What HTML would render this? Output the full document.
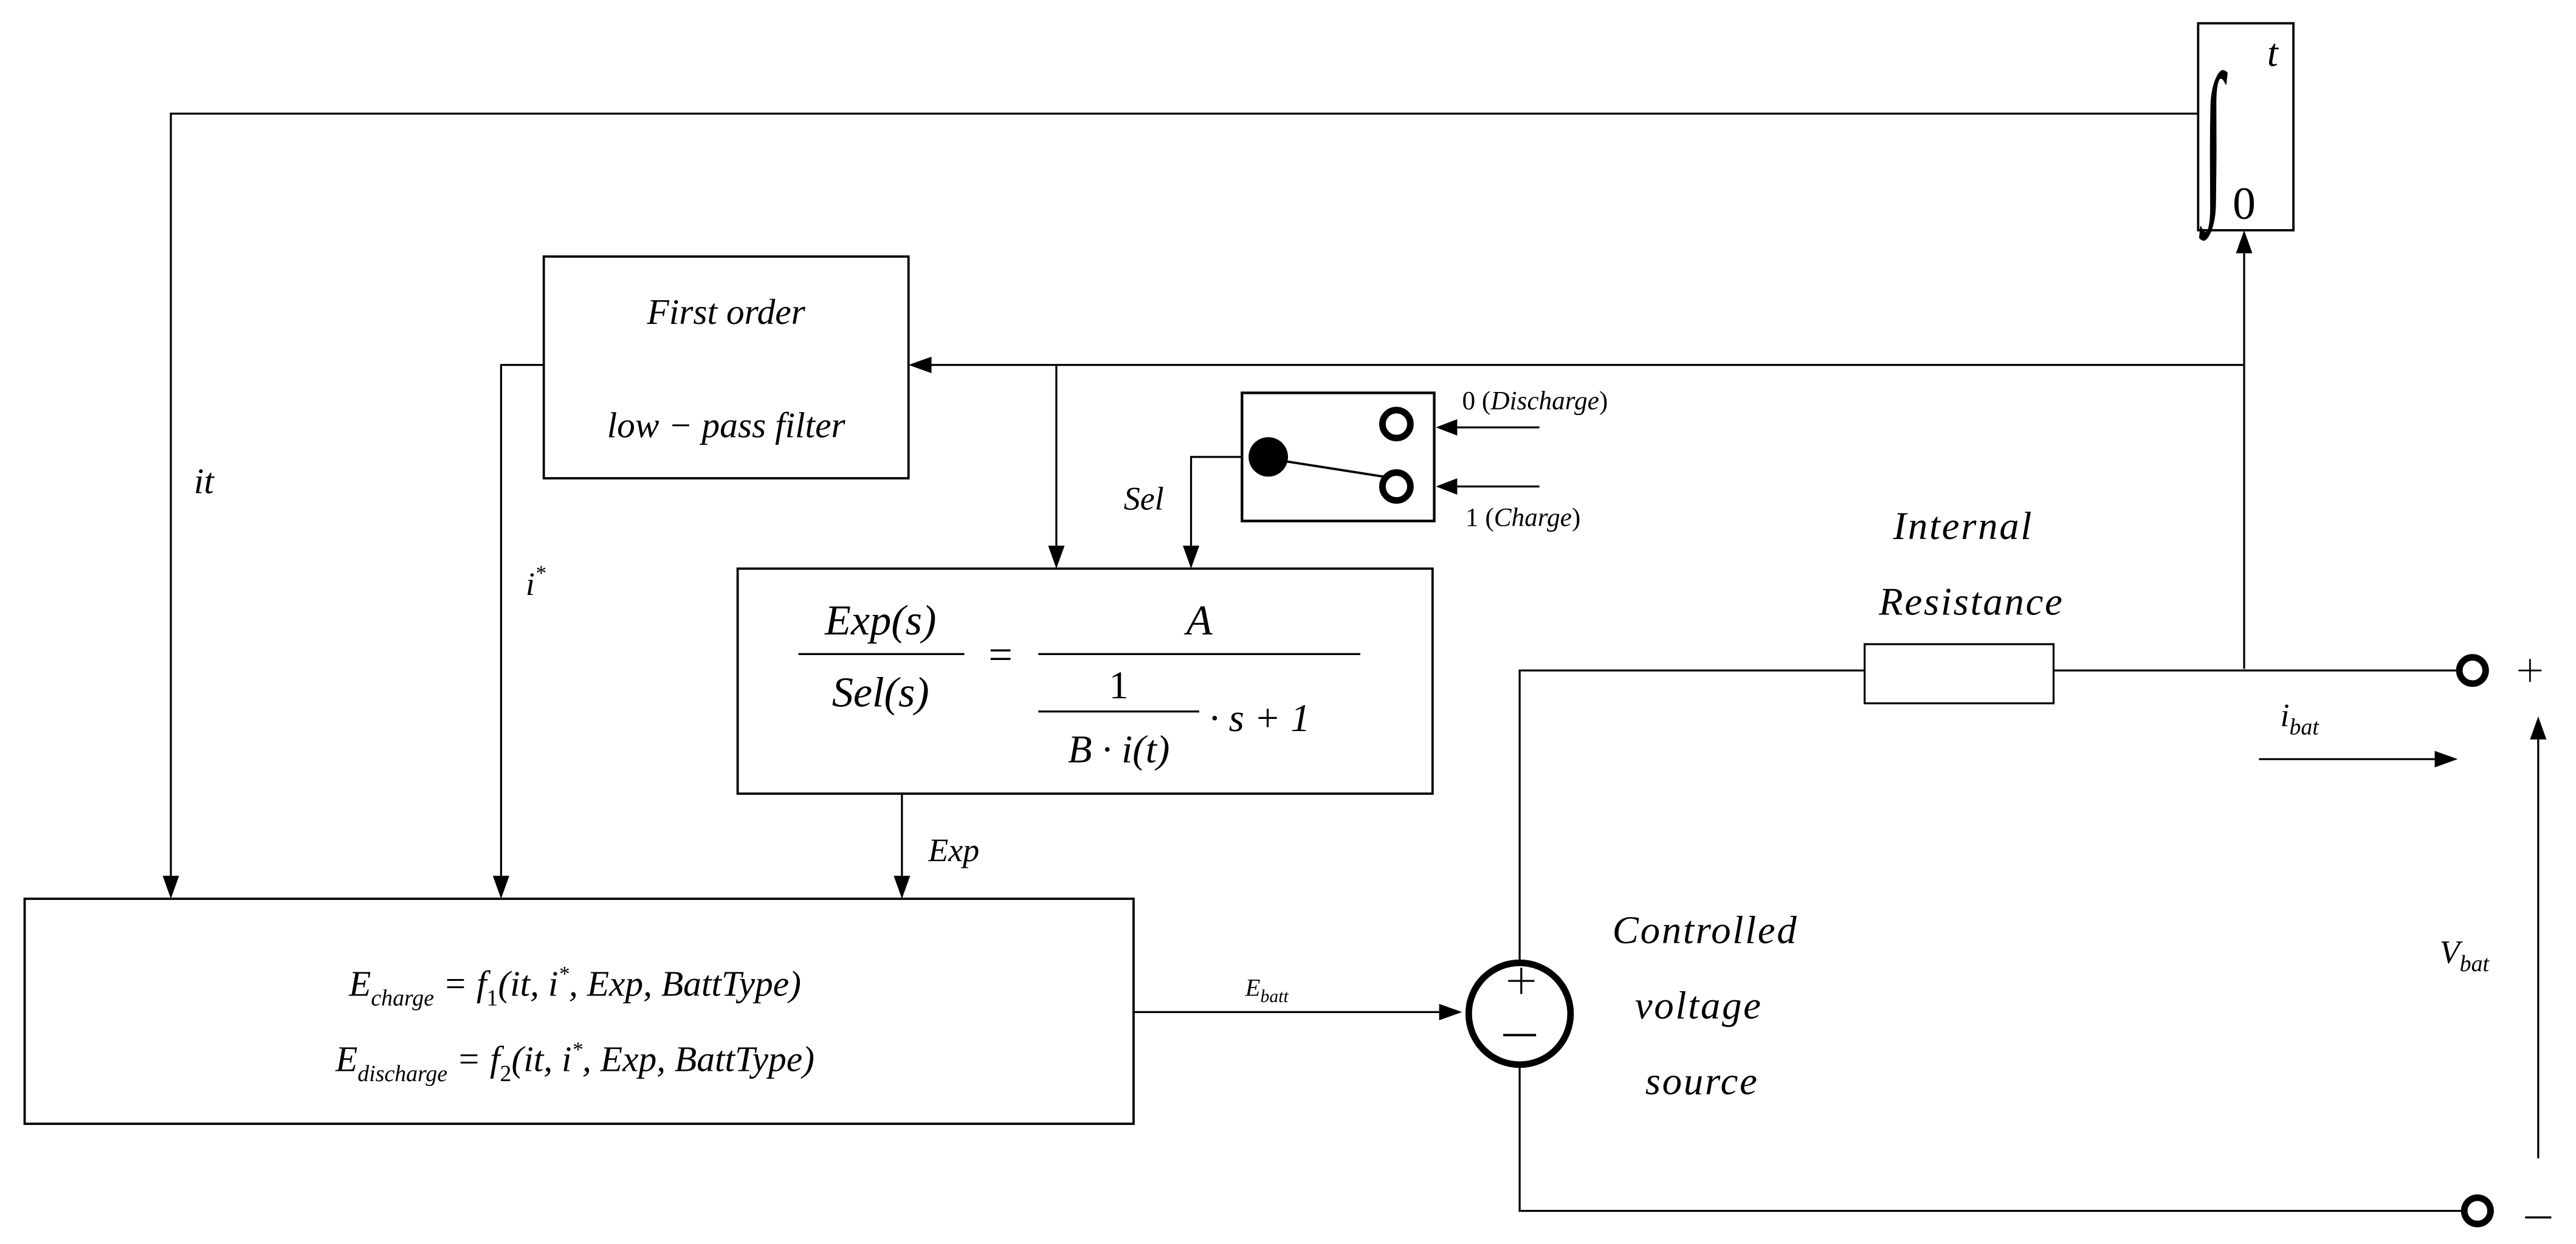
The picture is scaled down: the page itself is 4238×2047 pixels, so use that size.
<!DOCTYPE html>
<html><head><meta charset="utf-8"><style>
html,body{margin:0;padding:0;background:#fff;}
svg{display:block;}
text{font-family:"Liberation Serif",serif;font-style:italic;fill:#000;}
</style></head><body>
<svg width="4238" height="2047" viewBox="0 0 1568 757" xmlns="http://www.w3.org/2000/svg">
<g stroke="#000" stroke-width="1.2" fill="none">
  <polyline points="1338,69 104,69 104,533"/>
  <rect x="1338" y="14" width="58" height="126" stroke-width="1.4"/>
  <line x1="1366" y1="407" x2="1366" y2="154"/>
  <line x1="1366" y1="222" x2="567" y2="222"/>
  <rect x="331" y="156" width="222" height="135" stroke-width="1.4"/>
  <line x1="643" y1="222" x2="643" y2="332"/>
  <polyline points="331,222 305,222 305,533"/>
  <rect x="756" y="239" width="117" height="78" stroke-width="1.6"/>
  <line x1="772" y1="279" x2="842" y2="290" stroke-width="1.4"/>
  <line x1="937" y1="260" x2="886" y2="260"/>
  <line x1="937" y1="296" x2="886" y2="296"/>
  <polyline points="756,278 725,278 725,332"/>
  <rect x="449" y="346" width="423" height="137" stroke-width="1.4"/>
  <line x1="549" y1="483" x2="549" y2="533"/>
  <rect x="15" y="547" width="675" height="137" stroke-width="1.4"/>
  <line x1="690" y1="616" x2="876" y2="616"/>
  <circle cx="925" cy="617" r="31" stroke-width="4"/>
  <polyline points="925,586 925,408 1135,408"/>
  <rect x="1135" y="392" width="115" height="36"/>
  <line x1="1250" y1="408" x2="1497" y2="408"/>
  <polyline points="925,648 925,737 1499,737"/>
  <line x1="1375" y1="462" x2="1482" y2="462"/>
  <line x1="1545" y1="705" x2="1545" y2="450"/>
  <circle cx="1505" cy="408" r="8" stroke-width="4"/>
  <circle cx="1508" cy="737" r="8" stroke-width="4"/>
  <circle cx="850" cy="258" r="8.5" stroke-width="4"/>
  <circle cx="850" cy="296" r="8.5" stroke-width="4"/>
  <line x1="918" y1="597" x2="934" y2="597"/><line x1="926" y1="589" x2="926" y2="605"/>
  <line x1="915" y1="630" x2="935" y2="630" stroke-width="1.5"/>
  <line x1="486" y1="398" x2="587" y2="398"/>
  <line x1="632" y1="398" x2="828" y2="398"/>
  <line x1="632" y1="433" x2="730" y2="433"/>
  <line x1="1533" y1="408" x2="1547" y2="408" stroke-width="1"/><line x1="1540" y1="401" x2="1540" y2="415" stroke-width="1"/>
  <line x1="1537" y1="741" x2="1553" y2="741" stroke-width="1.3"/>
</g>
<circle cx="772" cy="278" r="12" fill="#000"/>
<g fill="#000">
  <polygon points="99,533 109,533 104,547"/>
  <polygon points="300,533 310,533 305,547"/>
  <polygon points="544,533 554,533 549,547"/>
  <polygon points="638,332 648,332 643,346"/>
  <polygon points="720,332 730,332 725,346"/>
  <polygon points="1361,154 1371,154 1366,140"/>
  <polygon points="567,217 567,227 553,222"/>
  <polygon points="887,255 887,265 874,260"/>
  <polygon points="887,291 887,301 874,296"/>
  <polygon points="876,611 876,621 890,616"/>
  <polygon points="1482,457 1482,467 1496,462"/>
  <polygon points="1540,450 1550,450 1545,436"/>
</g>
<text transform="translate(1341,118) scale(1,2.3)" font-size="46" style="font-style:normal">∫</text>
<text x="1380" y="40" font-size="24">t</text>
<text x="1359" y="133" font-size="28" style="font-style:normal">0</text>
<text x="442" y="197" font-size="22" text-anchor="middle">First order</text>
<text x="442" y="266" font-size="22" text-anchor="middle">low − pass filter</text>
<text x="118" y="300" font-size="22">it</text>
<text x="320" y="362" font-size="20">i<tspan font-size="13" dy="-9">*</tspan></text>
<text x="684" y="310" font-size="20">Sel</text>
<text x="565" y="524" font-size="20">Exp</text>
<text x="890" y="249" font-size="16"><tspan style="font-style:normal">0 (</tspan>Discharge<tspan style="font-style:normal">)</tspan></text>
<text x="892" y="320" font-size="16"><tspan style="font-style:normal">1 (</tspan>Charge<tspan style="font-style:normal">)</tspan></text>
<text x="536" y="386" font-size="26" text-anchor="middle">Exp(s)</text>
<text x="536" y="430" font-size="26" text-anchor="middle">Sel(s)</text>
<text x="609" y="407" font-size="26" text-anchor="middle" style="font-style:normal">=</text>
<text x="730" y="386" font-size="26" text-anchor="middle">A</text>
<text x="681" y="425" font-size="24" text-anchor="middle" style="font-style:normal">1</text>
<text x="681" y="464" font-size="24" text-anchor="middle">B · i(t)</text>
<text x="736" y="445" font-size="24">· s + 1</text>
<text x="350" y="606" font-size="22" text-anchor="middle">E<tspan font-size="14" dy="6">charge</tspan><tspan dy="-6"> = f</tspan><tspan font-size="14" dy="6" style="font-style:normal">1</tspan><tspan dy="-6">(it, i</tspan><tspan font-size="13" dy="-9">*</tspan><tspan dy="9">, Exp, BattType)</tspan></text>
<text x="350" y="652" font-size="22" text-anchor="middle">E<tspan font-size="14" dy="6">discharge</tspan><tspan dy="-6"> = f</tspan><tspan font-size="14" dy="6" style="font-style:normal">2</tspan><tspan dy="-6">(it, i</tspan><tspan font-size="13" dy="-9">*</tspan><tspan dy="9">, Exp, BattType)</tspan></text>
<text x="758" y="606" font-size="15">E<tspan font-size="11" dy="4">batt</tspan></text>
<text x="1195" y="328" font-size="24" text-anchor="middle" letter-spacing="1">Internal</text>
<text x="1200" y="374" font-size="24" text-anchor="middle" letter-spacing="1">Resistance</text>
<text x="1038" y="574" font-size="24" text-anchor="middle" letter-spacing="1">Controlled</text>
<text x="1034" y="620" font-size="24" text-anchor="middle" letter-spacing="1">voltage</text>
<text x="1036" y="666" font-size="24" text-anchor="middle" letter-spacing="1">source</text>
<text x="1388" y="442" font-size="20">i<tspan font-size="14" dy="5">bat</tspan></text>
<text x="1485" y="586" font-size="20">V<tspan font-size="14" dy="5">bat</tspan></text>
</svg>
</body></html>
